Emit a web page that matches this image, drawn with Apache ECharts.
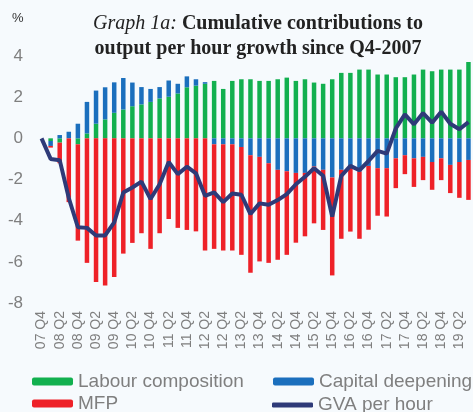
<!DOCTYPE html>
<html>
<head>
<meta charset="utf-8">
<script src="https://cdn.jsdelivr.net/npm/echarts@6/dist/echarts.min.js"></script>
<style>
  html, body { margin: 0; padding: 0; background: #f6fafd; }
  #chart { width: 473px; height: 412px; }
</style>
</head>
<body>
<div id="chart"></div>
<script>
const quarters = [
  '07 Q4', '08 Q1', '08 Q2', '08 Q3', '08 Q4', '09 Q1', '09 Q2', '09 Q3', '09 Q4',
  '10 Q1', '10 Q2', '10 Q3', '10 Q4', '11 Q1', '11 Q2', '11 Q3', '11 Q4',
  '12 Q1', '12 Q2', '12 Q3', '12 Q4', '13 Q1', '13 Q2', '13 Q3', '13 Q4',
  '14 Q1', '14 Q2', '14 Q3', '14 Q4', '15 Q1', '15 Q2', '15 Q3', '15 Q4',
  '16 Q1', '16 Q2', '16 Q3', '16 Q4', '17 Q1', '17 Q2', '17 Q3', '17 Q4',
  '18 Q1', '18 Q2', '18 Q3', '18 Q4', '19 Q1', '19 Q2', '19 Q3'
]

// cumulative contributions, percentage points
const labourComposition = [
  0, -0.13, -0.21, 0, -0.29, 0.24, 0.71, 0.92, 1.24, 1.40, 1.56, 1.65, 1.77,
  1.94, 2.02, 2.18, 2.48, 2.56, 2.65, 2.79, 2.40, 2.79, 2.87, 2.87, 2.79,
  2.79, 2.87, 2.95, 2.79, 2.87, 2.71, 2.65, 2.87, 3.18, 3.18, 3.34, 3.34,
  3.10, 3.10, 2.97, 2.97, 3.10, 3.34, 3.26, 3.34, 3.34, 3.34, 3.71
]
const capitalDeepening = [
  0, -0.24, 0.16, 0.32, 0.71, 1.53, 1.61, 1.56, 1.48, 1.53, 1.15, 0.84, 0.63,
  0.55, 0.79, 0.47, 0.53, 0.31, 0.08, -0.29, -0.29, -0.29, -0.42, -0.82, -0.90,
  -1.21, -1.53, -1.60, -1.68, -1.68, -1.37, -1.53, -1.90, -1.53, -1.42, -1.61, -1.34,
  -1.45, -1.45, -0.97, -0.82, -0.97, -0.90, -1.15, -0.97, -1.29, -1.15, -1.05
]
const mfp = [
  0, -0.08, -1.00, -3.10, -4.68, -6.05, -6.98, -7.15, -6.74, -5.60, -5.08, -4.61, -5.37,
  -4.61, -3.92, -4.35, -4.45, -4.52, -5.45, -5.08, -5.16, -5.16, -5.24, -5.71, -5.08,
  -4.84, -4.37, -4.06, -3.39, -3.08, -2.76, -2.92, -4.76, -3.35, -3.11, -3.27, -3.10,
  -2.31, -2.35, -1.45, -0.92, -1.39, -1.13, -1.35, -1.06, -1.37, -1.74, -1.94
]
const gvaPerHour = [
  0, -1.00, -1.06, -2.90, -4.32, -4.35, -4.72, -4.72, -4.08, -2.63, -2.39, -2.10, -2.95,
  -2.23, -1.15, -1.74, -1.38, -1.70, -2.79, -2.63, -3.10, -2.68, -2.74, -3.68, -3.16,
  -3.23, -3.00, -2.71, -2.23, -1.87, -1.45, -1.82, -3.80, -1.82, -1.34, -1.55, -1.10,
  -0.61, -0.74, 0.48, 1.16, 0.68, 1.23, 0.76, 1.29, 0.71, 0.44, 0.79
]
const yTicks = { min: -8, max: 4, interval: 2 }

const colors = {
  labour: '#12b04f',
  capital: '#1b6fbd',
  mfp: '#ee2128',
  gva: '#2e3a78'
}

const legendText = { fontSize: 19, color: '#7f7f7f', fontFamily: 'Liberation Sans' }

function legendAt(item, left, top, h) {
  return {
    data: [item],
    left: left,
    top: top,
    itemWidth: 41,
    itemHeight: h || 8,
    itemGap: 0,
    padding: 0,
    selectedMode: false,
    textStyle: legendText
  }
}

const chart = echarts.init(document.getElementById('chart'))
chart.setOption({
  backgroundColor: '#f6fafd',
  animation: false,
  title: {
    text: '{i|Graph 1a:} {b|Cumulative contributions to}\n{b|output per hour growth since Q4-2007}',
    left: 253,
    top: 6,
    textAlign: 'center',
    textStyle: {
      lineHeight: 25,
      rich: {
        i: { fontFamily: 'Liberation Serif', fontStyle: 'italic', fontWeight: 'normal', fontSize: 20, color: '#222', lineHeight: 25 },
        b: { fontFamily: 'Liberation Serif', fontWeight: 'bold', fontSize: 20, color: '#222', lineHeight: 25 }
      }
    }
  },
  graphic: [{
    type: 'text',
    left: 12,
    top: 12,
    style: { text: '%', fontSize: 13, fill: '#333', fontFamily: 'Liberation Sans' }
  }],
  legend: [
    legendAt('Labour composition', 32, 372),
    legendAt('Capital deepening', 273, 372),
    legendAt('MFP', 32, 394),
    legendAt({ name: 'GVA per hour', icon: 'roundRect' }, 272, 395.5, 5)
  ],
  grid: { left: 37, right: -2, top: 56, bottom: 109 },
  xAxis: {
    type: 'category',
    data: quarters,
    axisLine: { show: false, onZero: false },
    axisTick: { show: false },
    axisLabel: {
      interval: 1,
      rotate: 90,
      margin: 8,
      fontSize: 14,
      color: '#7f7f7f',
      fontFamily: 'Liberation Sans'
    },
    splitLine: { show: false }
  },
  yAxis: {
    type: 'value',
    min: yTicks.min,
    max: yTicks.max,
    interval: yTicks.interval,
    axisLine: { show: false },
    axisTick: { show: false },
    splitLine: { show: false },
    axisLabel: {
      margin: 14,
      fontSize: 17,
      color: '#7f7f7f',
      fontFamily: 'Liberation Sans'
    }
  },
  series: [
    {
      name: 'Labour composition',
      type: 'bar',
      stack: 'contrib',
      barWidth: 4.5,
      itemStyle: { color: colors.labour },
      data: labourComposition
    },
    {
      name: 'Capital deepening',
      type: 'bar',
      stack: 'contrib',
      barWidth: 4.5,
      itemStyle: { color: colors.capital },
      data: capitalDeepening
    },
    {
      name: 'MFP',
      type: 'bar',
      stack: 'contrib',
      barWidth: 4.5,
      itemStyle: { color: colors.mfp },
      data: mfp
    },
    {
      name: 'GVA per hour',
      type: 'line',
      symbol: 'none',
      lineStyle: { color: colors.gva, width: 4 },
      itemStyle: { color: colors.gva },
      data: gvaPerHour,
      z: 5
    }
  ]
})
</script>
</body>
</html>
